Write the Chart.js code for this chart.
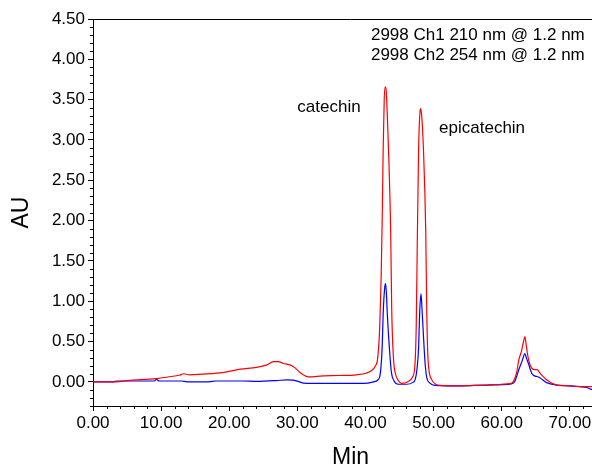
<!DOCTYPE html>
<html>
<head>
<meta charset="utf-8">
<script src="https://cdn.jsdelivr.net/npm/chart.js@4"></script>
<style>
  html, body { margin: 0; padding: 0; background: #fff; overflow: hidden; }
  #wrap { width: 620px; height: 466px; }
</style>
</head>
<body>
<div id="wrap"><canvas id="chromChart" width="620" height="466"></canvas></div>
<script>
// Ch1 (210 nm) trace
const ch1Times = [0, 3.5, 5, 9.3, 11, 12.8, 13.3, 14.2, 16, 18.2, 20, 21.6, 24, 25.5, 26.5, 27.2, 27.9, 29.4, 30.4, 31.6,
  33.8, 36, 38.7, 40.2, 40.9, 41.4, 41.8, 42.1, 42.3, 42.45, 42.6, 42.75, 42.9, 43.05, 43.25, 43.45, 43.7, 43.85, 44.1, 44.4,
  44.8, 45.3, 46.2, 46.9, 47.25, 47.45, 47.6, 47.8, 48.0, 48.1, 48.25, 48.5, 48.85, 49.0, 49.2, 49.7, 50.3, 51, 53, 56,
  58, 60, 61.4, 61.8, 62.2, 62.5, 62.9, 63.2, 63.4, 63.6, 63.9, 64.4, 64.9, 65.2, 65.6, 66.6, 68.1, 70, 71.5, 73, 74.5, 75.6];
const ch1Values = [0, 0, 0.015, 0.04, 0.06, 0.085, 0.1, 0.087, 0.095, 0.107, 0.13, 0.157, 0.18, 0.21, 0.25, 0.25, 0.23, 0.19, 0.115, 0.062,
  0.074, 0.078, 0.087, 0.11, 0.14, 0.19, 0.3, 0.7, 1.3, 2.0, 2.9, 3.5, 3.66, 3.6, 3.2, 2.7, 1.85, 0.9, 0.3, 0.1,
  0.02, -0.02, 0.0, 0.06, 0.2, 0.7, 1.7, 2.9, 3.35, 3.39, 3.3, 2.9, 1.85, 0.85, 0.25, 0.03, -0.03, -0.045, -0.05, -0.045,
  -0.04, -0.03, -0.02, 0.02, 0.12, 0.27, 0.38, 0.5, 0.56, 0.45, 0.29, 0.17, 0.15, 0.15, 0.11, 0.025, -0.04, -0.05, -0.06, -0.06, -0.07, -0.075];

// Ch2 (254 nm) trace
const ch2Times = [0, 3, 3.5, 9.0, 9.3, 9.7, 13, 13.8, 17, 18, 22, 24, 26.9, 28.5, 29.4, 30.3, 30.9, 33.8, 37, 39.7,
  41.2, 41.9, 42.2, 42.45, 42.6, 42.8, 42.95, 43.1, 43.2, 43.5, 43.8, 44.2, 44.8, 46, 46.9, 47.3, 47.55, 47.8, 47.95, 48.15,
  48.3, 48.6, 48.8, 49.0, 49.5, 50.2, 53, 56, 58, 60, 61.4, 61.9, 62.5, 63.0, 63.4, 63.6, 63.9, 64.4, 64.9, 65.2,
  65.6, 66.6, 68.1, 70, 71.5, 72.5, 73, 74, 75.6];
const ch2Values = [0, 0, 0.01, 0.01, 0.03, 0.01, 0.01, 0.0, 0.0, 0.01, 0.01, 0.005, 0.015, 0.025, 0.02, 0.0, -0.016, -0.02, -0.02, -0.02,
  0.0, 0.03, 0.12, 0.43, 0.85, 1.15, 1.22, 1.05, 0.85, 0.43, 0.12, 0.01, -0.03, -0.03, -0.01, 0.03, 0.15, 0.43, 0.85, 1.09,
  0.9, 0.43, 0.18, 0.05, -0.02, -0.045, -0.05, -0.045, -0.04, -0.035, -0.025, 0.0, 0.15, 0.26, 0.35, 0.3, 0.23, 0.107, 0.07, 0.066,
  0.05, -0.01, -0.04, -0.05, -0.06, -0.07, -0.09, -0.1, -0.1];

const channelNames = ['2998 Ch1 210 nm @ 1.2 nm', '2998 Ch2 254 nm @ 1.2 nm'];
const peakNames = ['catechin', 'epicatechin'];

// where the text labels sit, in data units
const peakLabelAt = [{ x: 30.0, y: 3.35 }, { x: 50.8, y: 3.08 }];
const channelLabelAt = [{ x: 40.8, y: 4.24 }, { x: 40.8, y: 3.99 }];

const FONT = '"Liberation Sans", Arial, sans-serif';

const toPoints = (xs, ys) => xs.map((x, i) => ({ x: x, y: ys[i] }));

// top frame line, minor ticks and the text labels
const chromDecor = {
  id: 'chromDecor',
  afterDraw(chart) {
    const { ctx, chartArea: a, scales: { x, y } } = chart;
    ctx.save();
    ctx.strokeStyle = '#000';
    ctx.lineWidth = 1;
    ctx.beginPath();
    ctx.moveTo(a.left, Math.round(a.top) + 0.5);
    ctx.lineTo(a.right, Math.round(a.top) + 0.5);
    for (let i = -3; i <= 45; i++) {
      if (i % 5 === 0) continue;
      const py = Math.round(y.getPixelForValue(i / 10)) + 0.5;
      ctx.moveTo(a.left - 3, py);
      ctx.lineTo(a.left, py);
    }
    for (let i = 0; i <= 75; i += 2) {
      if (i % 10 === 0) continue;
      const px = Math.round(x.getPixelForValue(i)) + 0.5;
      ctx.moveTo(px, a.bottom);
      ctx.lineTo(px, a.bottom + 3);
    }
    ctx.stroke();

    ctx.fillStyle = '#000';
    ctx.font = '17px ' + FONT;
    ctx.textAlign = 'left';
    ctx.textBaseline = 'alphabetic';
    channelNames.forEach((name, i) => {
      ctx.fillText(name, x.getPixelForValue(channelLabelAt[i].x), y.getPixelForValue(channelLabelAt[i].y));
    });
    peakNames.forEach((name, i) => {
      ctx.fillText(name, x.getPixelForValue(peakLabelAt[i].x), y.getPixelForValue(peakLabelAt[i].y));
    });
    ctx.restore();
  }
};

const ctx = document.getElementById('chromChart').getContext('2d');
new Chart(ctx, {
  type: 'line',
  data: {
    datasets: [
      {
        label: channelNames[0],
        data: toPoints(ch1Times, ch1Values),
        borderColor: '#ff0000',
        borderWidth: 1.2,
        pointRadius: 0,
        cubicInterpolationMode: 'monotone'
      },
      {
        label: channelNames[1],
        data: toPoints(ch2Times, ch2Values),
        borderColor: '#0000ff',
        borderWidth: 1.2,
        pointRadius: 0,
        cubicInterpolationMode: 'monotone'
      }
    ]
  },
  options: {
    responsive: false,
    animation: false,
    layout: { padding: { top: 19, right: 12, left: 0, bottom: 0 } },
    plugins: { legend: { display: false }, tooltip: { enabled: false } },
    scales: {
      x: {
        type: 'linear',
        min: 0,
        max: 75.6,
        ticks: {
          stepSize: 10,
          includeBounds: false,
          maxRotation: 0,
          padding: 2,
          color: '#000',
          font: { family: FONT, size: 17 },
          callback: v => v.toFixed(2)
        },
        grid: { drawOnChartArea: false, tickLength: 5, tickColor: '#000' },
        border: { color: '#000', width: 1 },
        title: {
          display: true,
          text: 'Min',
          color: '#000',
          font: { family: FONT, size: 23 },
          padding: { top: 0, bottom: -5 }
        },
        afterFit: s => { s.height = 60; s.paddingLeft = 0; s.paddingRight = 0; }
      },
      y: {
        min: -0.3,
        max: 4.5,
        ticks: {
          stepSize: 0.5,
          includeBounds: false,
          padding: 3,
          color: '#000',
          font: { family: FONT, size: 17 },
          callback: v => v.toFixed(2)
        },
        grid: { drawOnChartArea: false, tickLength: 5, tickColor: '#000' },
        border: { color: '#000', width: 1 },
        title: {
          display: true,
          text: 'AU',
          color: '#000',
          font: { family: FONT, size: 23 },
          padding: { top: 8, bottom: 0 }
        },
        afterFit: s => { s.width = 93; }
      }
    }
  },
  plugins: [chromDecor]
});
</script>
</body>
</html>
